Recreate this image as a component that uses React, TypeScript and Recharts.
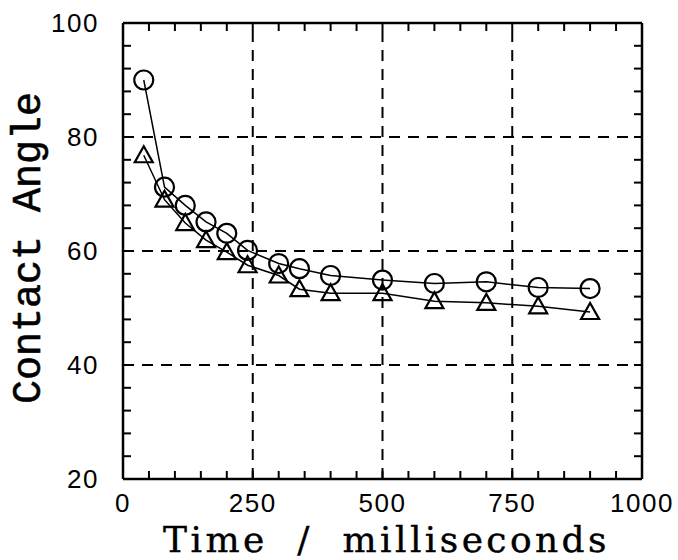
import { LineChart, Line, XAxis, YAxis, ReferenceLine } from "recharts";

// time in ms, contact angle in degrees
const times = [40, 80, 120, 160, 200, 240, 300, 340, 400, 500, 600, 700, 800, 900];
const circleAngles = [90, 71.2, 68, 65.1, 63.1, 60.1, 57.8, 56.9, 55.7, 54.9, 54.3, 54.6, 53.6, 53.4];
const triangleAngles = [76.8, 69, 64.9, 61.9, 59.8, 57.5, 55.7, 53.3, 52.6, 52.6, 51.2, 50.9, 50.3, 49.3];

const xTicks = [0, 50, 100, 150, 200, 250, 300, 350, 400, 450, 500, 550, 600, 650, 700, 750, 800, 850, 900, 950, 1000];
const xLabels = [0, 250, 500, 750, 1000];
const yTicks = [20, 24, 28, 32, 36, 40, 44, 48, 52, 56, 60, 64, 68, 72, 76, 80, 84, 88, 92, 96, 100];
const yLabels = [20, 40, 60, 80, 100];
const xGrid = [250, 500, 750];
const yGrid = [40, 60, 80];

const circleData = times.map((t, i) => ({ t, angle: circleAngles[i] }));
const triangleData = times.map((t, i) => ({ t, angle: triangleAngles[i] }));

const TICK_LEN = 8;
const tickFont = { fontFamily: "Liberation Sans, Arial, sans-serif", fontSize: 26, letterSpacing: 1.5, fill: "#000" };

const BottomTick = ({ x, y, payload }: any) => (
  <g>
    <line x1={x} y1={y} x2={x} y2={y - TICK_LEN} stroke="#000" strokeWidth={2} />
    {xLabels.includes(payload.value) && (
      <text x={x} y={y + 33} textAnchor="middle" {...tickFont}>
        {payload.value}
      </text>
    )}
  </g>
);

const TopTick = ({ x, y }: any) => (
  <line x1={x} y1={y} x2={x} y2={y + TICK_LEN} stroke="#000" strokeWidth={2} />
);

const LeftTick = ({ x, y, payload }: any) => (
  <g>
    <line x1={x} y1={y} x2={x + TICK_LEN} y2={y} stroke="#000" strokeWidth={2} />
    {yLabels.includes(payload.value) && (
      <text x={x - 24} y={y} dy="0.35em" textAnchor="end" {...tickFont}>
        {payload.value}
      </text>
    )}
  </g>
);

const RightTick = ({ x, y }: any) => (
  <line x1={x} y1={y} x2={x - TICK_LEN} y2={y} stroke="#000" strokeWidth={2} />
);

const CircleDot = ({ cx, cy }: any) => (
  <circle cx={cx} cy={cy} r={9.5} fill="none" stroke="#000" strokeWidth={2.2} />
);

const TriangleDot = ({ cx, cy }: any) => (
  <path
    d={`M${cx},${cy - 9} L${cx + 9},${cy + 7} L${cx - 9},${cy + 7} Z`}
    fill="none"
    stroke="#000"
    strokeWidth={2.2}
  />
);

const YTitle = ({ viewBox }: any) => {
  const cx = viewBox.x + 40;
  const cy = viewBox.y + viewBox.height / 2 - 3;
  return (
    <text
      x={cx}
      y={cy}
      textAnchor="middle"
      transform={`rotate(-90 ${cx} ${cy})`}
      fontFamily="Liberation Mono, Courier New, monospace"
      fontSize={40}
      fill="#000"
      stroke="#000"
      strokeWidth={0.6}
    >
      Contact Angle
    </text>
  );
};

const XTitle = ({ viewBox }: any) => (
  <text
    x={viewBox.x + viewBox.width / 2 + 4}
    y={552}
    textAnchor="middle"
    fontFamily="DejaVu Serif, serif"
    fontSize={36}
    letterSpacing={3.4}
    fill="#000"
    stroke="#000"
    strokeWidth={0.4}
    style={{ whiteSpace: "pre" }}
  >
    {"Time  /  milliseconds"}
  </text>
);

const axisLine = { stroke: "#000", strokeWidth: 2.5 };
const gridStyle = { stroke: "#000", strokeWidth: 2, strokeDasharray: "11 8" };

export default function App() {
  return (
    <div style={{ position: "absolute", left: 0, top: 0, width: 678, height: 560, background: "#fff" }}>
      <LineChart width={678} height={560} margin={{ top: 22, right: 35, bottom: 0, left: 0 }}>
        <XAxis
          xAxisId="b"
          type="number"
          dataKey="t"
          domain={[0, 1000]}
          allowDataOverflow
          ticks={xTicks}
          interval={0}
          height={81}
          tickSize={0}
          tickMargin={0}
          tickLine={false}
          axisLine={axisLine}
          tick={(p: any) => <BottomTick {...p} />}
          label={(p: any) => <XTitle {...p} />}
        />
        <XAxis
          xAxisId="t"
          orientation="top"
          type="number"
          dataKey="t"
          domain={[0, 1000]}
          allowDataOverflow
          ticks={xTicks}
          interval={0}
          height={1}
          tickSize={0}
          tickMargin={0}
          tickLine={false}
          axisLine={axisLine}
          tick={(p: any) => <TopTick {...p} />}
        />
        <YAxis
          yAxisId="l"
          type="number"
          domain={[20, 100]}
          allowDataOverflow
          ticks={yTicks}
          interval={0}
          width={123}
          tickSize={0}
          tickMargin={0}
          tickLine={false}
          axisLine={axisLine}
          tick={(p: any) => <LeftTick {...p} />}
          label={(p: any) => <YTitle {...p} />}
        />
        <YAxis
          yAxisId="r"
          orientation="right"
          type="number"
          domain={[20, 100]}
          allowDataOverflow
          ticks={yTicks}
          interval={0}
          width={1}
          tickSize={0}
          tickMargin={0}
          tickLine={false}
          axisLine={axisLine}
          tick={(p: any) => <RightTick {...p} />}
        />
        {xGrid.map((v) => (
          <ReferenceLine key={`gx${v}`} xAxisId="b" yAxisId="l" x={v} {...gridStyle} />
        ))}
        {yGrid.map((v) => (
          <ReferenceLine key={`gy${v}`} xAxisId="b" yAxisId="l" y={v} {...gridStyle} />
        ))}
        <Line
          xAxisId="b"
          yAxisId="l"
          data={circleData}
          dataKey="angle"
          type="linear"
          stroke="#000"
          strokeWidth={1.5}
          dot={(p: any) => <CircleDot key={`c${p.index}`} {...p} />}
          activeDot={false}
          isAnimationActive={false}
        />
        <Line
          xAxisId="b"
          yAxisId="l"
          data={triangleData}
          dataKey="angle"
          type="linear"
          stroke="#000"
          strokeWidth={1.5}
          dot={(p: any) => <TriangleDot key={`t${p.index}`} {...p} />}
          activeDot={false}
          isAnimationActive={false}
        />
      </LineChart>
    </div>
  );
}
